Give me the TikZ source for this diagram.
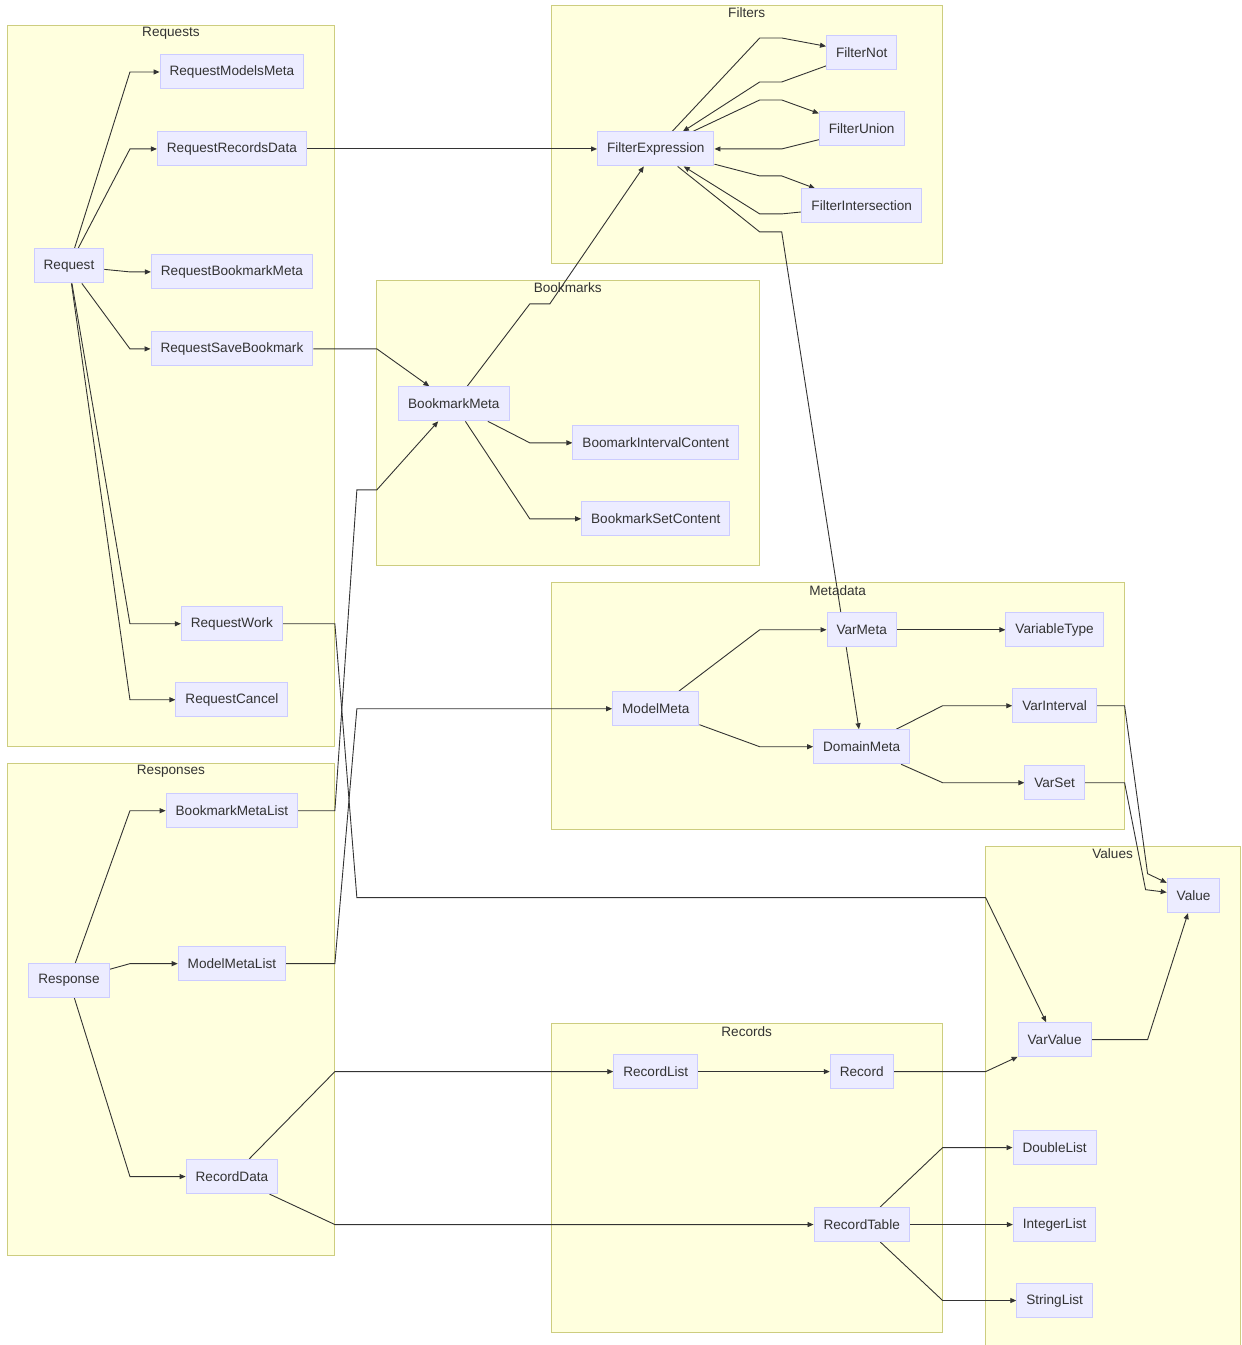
\documentclass[tikz,border=0pt]{standalone}
\usepackage{fontspec}
\setmainfont{Liberation Sans}
\usetikzlibrary{arrows.meta}
\definecolor{nodefill}{HTML}{ECECFF}
\definecolor{nodedraw}{HTML}{CCCCFF}
\definecolor{clfill}{HTML}{FFFFDE}
\definecolor{cldraw}{HTML}{CDCD7F}
\definecolor{txt}{HTML}{333333}
\definecolor{edgec}{HTML}{333333}
\pgfdeclarelayer{bg}
\pgfdeclarelayer{edges}
\pgfsetlayers{bg,edges,main}
\begin{document}
\begin{tikzpicture}[x=1pt,y=-1pt,
 box/.style={draw=nodedraw, fill=nodefill, line width=1pt, inner xsep=9.5pt, inner ysep=0pt, minimum height=34pt, font=\fontsize{13.6}{16}\selectfont, text=txt},
 cluster/.style={draw=cldraw, fill=clfill, line width=1pt},
 cltitle/.style={font=\fontsize{13.6}{16}\selectfont, text=txt, inner sep=0pt},
 edge/.style={draw=edgec, line width=0.9pt, -{Triangle[length=6pt,width=5pt]}}]

\begin{pgfonlayer}{bg}
\fill[white] (0,0) rectangle (1242,1345);
\draw[cluster] (8,26) rectangle (335,747);
\node[cltitle] (tReq) at (171,33) {Requests};
\draw[cluster] (552,6) rectangle (943,264);
\node[cltitle] (tFil) at (747,13) {Filters};
\draw[cluster] (377,281) rectangle (760,566);
\node[cltitle] (tBm) at (568,288) {Bookmarks};
\draw[cluster] (552,583) rectangle (1125,830);
\node[cltitle] (tMeta) at (838,591) {Metadata};
\draw[cluster] (8,764) rectangle (335,1256);
\node[cltitle] (tResp) at (171,772) {Responses};
\fill[clfill] (986,847) rectangle (1241,1345);
\draw[cldraw, line width=1pt] (986,1345) -- (986,847) -- (1241,847) -- (1241,1345);
\node[cltitle] (tVal) at (1113,854) {Values};
\draw[cluster] (552,1024) rectangle (943,1333);
\node[cltitle] (tRec) at (747,1032) {Records};
\end{pgfonlayer}
\useasboundingbox (0,0) rectangle (1242,1345);

% nodes
\node[box] (rmm) at (232,72) {RequestModelsMeta};
\node[box] (rrd) at (232,149) {RequestRecordsData};
\node[box] (req) at (69,266) {Request};
\node[box] (rbm) at (232,272) {RequestBookmarkMeta};
\node[box] (rsb) at (232,349) {RequestSaveBookmark};
\node[box] (rw) at (232,624) {RequestWork};
\node[box] (rc) at (232,700) {RequestCancel};
\node[box] (fe) at (656,149) {FilterExpression};
\node[box] (fn) at (862,53) {FilterNot};
\node[box] (fu) at (862,129) {FilterUnion};
\node[box] (fi) at (862,206) {FilterIntersection};
\node[box] (bm) at (454,404) {BookmarkMeta};
\node[box] (bic) at (656,443) {BoomarkIntervalContent};
\node[box] (bsc) at (656,519) {BookmarkSetContent};
\node[box] (mm) at (656,709) {ModelMeta};
\node[box] (vm) at (862,630) {VarMeta};
\node[box] (vt) at (1055,630) {VariableType};
\node[box] (dm) at (862,747) {DomainMeta};
\node[box] (vi) at (1055,706) {VarInterval};
\node[box] (vs) at (1055,783) {VarSet};
\node[box] (bml) at (232,811) {BookmarkMetaList};
\node[box] (resp) at (69,981) {Response};
\node[box] (mml) at (232,964) {ModelMetaList};
\node[box] (rd) at (232,1177) {RecordData};
\node[box] (rl) at (656,1072) {RecordList};
\node[box] (rec) at (862,1072) {Record};
\node[box] (rt) at (862,1225) {RecordTable};
\node[box] (val) at (1194,896) {Value};
\node[box] (vv) at (1055,1040) {VarValue};
\node[box] (dl) at (1055,1148) {DoubleList};
\node[box] (il) at (1055,1225) {IntegerList};
\node[box] (sl) at (1055,1301) {StringList};

\begin{pgfonlayer}{edges}
\draw[edge] (req) -- (130,72) -- (rmm);
\draw[edge] (req) -- (130,149) -- (rrd);
\draw[edge] (req) -- (130,272) -- (rbm);
\draw[edge] (req) -- (130,349) -- (rsb);
\draw[edge] (req) -- (130,624) -- (rw);
\draw[edge] (req) -- (130,700) -- (rc);
\draw[edge] (rrd) -- (fe);
\draw[edge] (rsb) -- (377,349) -- (bm);
\draw[edge] (bm) -- (530,304) -- (550,304) -- (fe);
\draw[edge] (bm) -- (530,443) -- (bic);
\draw[edge] (bm) -- (530,519) -- (bsc);
\draw[edge] (fe) -- (760,38) -- (782,38) -- (fn);
\draw[edge] (fn) -- (782,82) -- (760,82) -- (fe);
\draw[edge] (fe) -- (760,100) -- (782,100) -- (fu);
\draw[edge] (fu) -- (782,149) -- (760,149) -- (fe);
\draw[edge] (fe) -- (760,176) -- (782,176) -- (fi);
\draw[edge] (fi) -- (782,214) -- (760,214) -- (fe);
\draw[edge] (fe) -- (760,232) -- (782,232) -- (dm);
\draw[edge] (mm) -- (760,630) -- (vm);
\draw[edge] (mm) -- (760,747) -- (dm);
\draw[edge] (vm) -- (vt);
\draw[edge] (dm) -- (943,706) -- (vi);
\draw[edge] (dm) -- (943,783) -- (vs);
\draw[edge] (vi) -- (1125,706) -- (1148,874) -- (val);
\draw[edge] (vs) -- (1125,783) -- (1146,890) -- (val);
\draw[edge] (vv) -- (1148,1040) -- (val);
\draw[edge] (rw) -- (335,624) -- (357,898) -- (986,898) -- (vv);
\draw[edge] (bml) -- (335,811) -- (357,490) -- (377,490) -- (bm);
\draw[edge] (mml) -- (335,964) -- (357,709) -- (mm);
\draw[edge] (resp) -- (130,811) -- (bml);
\draw[edge] (resp) -- (130,964) -- (mml);
\draw[edge] (resp) -- (130,1177) -- (rd);
\draw[edge] (rd) -- (335,1072) -- (rl);
\draw[edge] (rd) -- (335,1225) -- (rt);
\draw[edge] (rl) -- (rec);
\draw[edge] (rec) -- (986,1072) -- (vv);
\draw[edge] (rt) -- (943,1148) -- (dl);
\draw[edge] (rt) -- (il);
\draw[edge] (rt) -- (943,1301) -- (sl);
\end{pgfonlayer}
\end{tikzpicture}
\end{document}
